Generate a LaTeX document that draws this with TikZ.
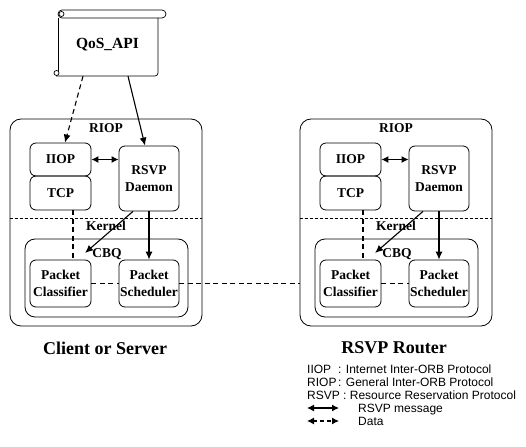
\documentclass[tikz,border=0pt]{standalone}
\usepackage{fontspec}
\setmainfont{Liberation Serif}
\newfontfamily\legfont{Liberation Sans}
\usetikzlibrary{arrows.meta}
\tikzset{
  lbl/.style={font=\fontsize{13.5}{16}\selectfont\bfseries, inner sep=0pt},
  bx/.style={draw, rounded corners=6pt, line width=0.8pt, align=center, inner sep=0pt,
    font=\fontsize{13.5}{17}\selectfont\bfseries},
  outerbx/.style={draw, rounded corners=11pt, line width=0.8pt, inner sep=0pt},
  kernline/.style={line width=0.5pt, dash pattern=on 3pt off 2pt},
  msgline/.style={line width=1.1pt, -{Latex[length=8pt,width=7pt]}},
  msgboth/.style={line width=1.1pt, {Latex[length=7pt,width=7pt]}-{Latex[length=7pt,width=7pt]}},
  dataline/.style={line width=1.1pt, dash pattern=on 5pt off 3.5pt},
  leg/.style={font=\legfont\fontsize{12}{14}\selectfont, inner sep=0pt, anchor=base west},
  unit/.pic={
    \node[outerbx, minimum width=192pt, minimum height=207pt] (out) at (106,222.5) {};
    \node[lbl] (riop) at (106,128) {RIOP};
    \node[bx, minimum width=61pt, minimum height=33pt] (iiop) at (60.5,159.5) {IIOP};
    \node[bx, minimum width=61pt, minimum height=34pt] (tcp) at (60.5,193) {TCP};
    \node[bx, minimum width=60pt, minimum height=65pt] (dmn) at (149,178.5) {RSVP\\Daemon};
    \draw[kernline] (out.west |- 0,218) -- (out.east |- 0,218);
    \node[lbl] (kern) at (106,226) {Kernel};
    \node[bx, minimum width=163pt, minimum height=78pt, rounded corners=10pt] (cbq) at (106.5,278) {};
    \node[lbl] (cbql) at (107,254) {CBQ};
    \node[bx, minimum width=61pt, minimum height=47pt] (pc) at (60.5,283.5) {Packet\\Classifier};
    \node[bx, minimum width=60pt, minimum height=47pt] (ps) at (149,283.5) {Packet\\Scheduler};
    \coordinate (tip) at (85,253);
    \draw[msgboth] (iiop.east) -- (iiop.east -| dmn.west);
    \draw[dataline] ([xshift=12.5pt]tcp.south) -- ([xshift=12.5pt]pc.north);
    \draw[msgline] ([xshift=-16pt]dmn.south) -- (tip);
    \draw[msgline] (dmn.south) -- (ps.north);
    \draw[dataline] (pc.east) -- (ps.west);
  }
}
\begin{document}
\begin{tikzpicture}[x=1pt,y=-1pt]
\useasboundingbox (0,0) rectangle (526,446);
% scroll
\draw[line width=0.7pt, rounded corners=4pt] (58,10) rectangle (166,18);
\draw[line width=0.7pt] (61.5,14) circle (2.5pt);
\draw[line width=0.7pt] (58,18) -- (58,72);
\draw[line width=0.7pt, rounded corners=3pt] (56,76) -- (158,76) -- (158,18);
\draw[line width=0.7pt] (56.5,73) circle (2.5pt);
\node[minimum width=100pt, minimum height=62pt, inner sep=0pt,
  font=\fontsize{15.5}{18}\selectfont\bfseries] (qos) at (107.5,45) {QoS\_API};
% units
\pic (L) at (0,0) {unit};
\pic (R) at (290,0) {unit};
% connectors
\draw[dataline, -{Latex[length=8pt,width=7pt]}] ([xshift=-24.5pt]qos.south) -- ([xshift=4.5pt]Liiop.north);
\draw[msgline] ([xshift=20.5pt]qos.south) -- ([xshift=-4pt]Ldmn.north);
\draw[dataline] (Lps.east) -- (Lps.east -| Rout.west);
% captions
\node[font=\fontsize{18}{20}\selectfont\bfseries] (cap1) at (105,348) {Client or Server};
\node[font=\fontsize{18}{20}\selectfont\bfseries] (cap2) at (394,348) {RSVP Router};
% legend
\node[leg] (l1a) at (307,373) {IIOP};
\node[leg] (l1b) at (338,373) {: Internet Inter-ORB Protocol};
\node[leg] (l2a) at (307,386) {RIOP};
\node[leg] (l2b) at (338,386) {: General Inter-ORB Protocol};
\node[leg] (l3) at (307,399) {RSVP : Resource Reservation Protocol};
\coordinate (a1) at (307,408);
\coordinate (a2) at (339,408);
\draw[msgboth] (a1) -- (a2);
\node[leg] (l4) at (358,412) {RSVP message};
\coordinate (b1) at (307,421);
\coordinate (b2) at (339,421);
\draw[line width=1.1pt, {Latex[length=7pt,width=7pt]}-{Latex[length=7pt,width=7pt]}, dash pattern=on 4pt off 3pt] (b1) -- (b2);
\node[leg] (l5) at (358,425) {Data};
\end{tikzpicture}
\end{document}
